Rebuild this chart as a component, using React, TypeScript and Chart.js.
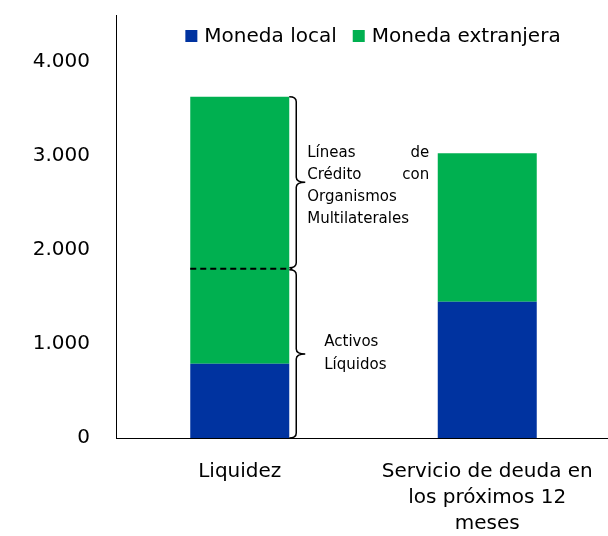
import React, { useEffect, useRef } from "react";
import { Chart, registerables } from "chart.js";

Chart.register(...registerables);

const categories = [["Liquidez"], ["Servicio de deuda en", "los próximos 12", "meses"]];
const seriesLabels = ["Moneda local", "Moneda extranjera"];
const monedaLocal = [790, 1450];
const monedaExtranjera = [2840, 1580];
const yTicks = [0, 1000, 2000, 3000, 4000];
const yMax = 4500;
const activosLiquidos = 1800;
const upperNote = [["Líneas", "de"], ["Crédito", "con"], ["Organismos"], ["Multilaterales"]];
const lowerNote = ["Activos", "Líquidos"];

const BLUE = "#0033A0";
const GREEN = "#00B050";
const FONT = "'DejaVu Sans', sans-serif";

const fmt = (v: number) => String(v).replace(/\B(?=(\d{3})+(?!\d))/g, ".");

function drawBrace(ctx: CanvasRenderingContext2D, x0: number, y1: number, y2: number) {
  const xv = x0 + 7;
  const xt = x0 + 16;
  const r = 5;
  const ym = (y1 + y2) / 2;
  ctx.beginPath();
  ctx.moveTo(x0, y1);
  ctx.quadraticCurveTo(xv, y1, xv, y1 + r);
  ctx.lineTo(xv, ym - r);
  ctx.quadraticCurveTo(xv, ym, xt, ym);
  ctx.quadraticCurveTo(xv, ym, xv, ym + r);
  ctx.lineTo(xv, y2 - r);
  ctx.quadraticCurveTo(xv, y2, x0, y2);
  ctx.stroke();
}

const annotPlugin = {
  id: "annot",
  afterDatasetsDraw(chart: any) {
    const ctx: CanvasRenderingContext2D = chart.ctx;
    const ys = chart.scales.y;
    const bar: any = chart.getDatasetMeta(0).data[0];
    const half = bar.width / 2;
    const left = bar.x - half;
    const right = bar.x + half;
    const total = monedaLocal[0] + monedaExtranjera[0];
    const yTop = ys.getPixelForValue(total);
    const yMid = ys.getPixelForValue(activosLiquidos);
    const yBot = ys.getPixelForValue(0);
    ctx.save();
    ctx.strokeStyle = "#000";
    ctx.lineWidth = 2;
    ctx.setLineDash([6, 4]);
    ctx.beginPath();
    ctx.moveTo(left, yMid);
    ctx.lineTo(right + 3, yMid);
    ctx.stroke();
    ctx.setLineDash([]);
    ctx.lineWidth = 1.5;
    drawBrace(ctx, right, yTop, yMid - 1);
    drawBrace(ctx, right, yMid + 1, yBot);

    ctx.fillStyle = "#000";
    ctx.font = `15px ${FONT}`;
    ctx.textBaseline = "middle";
    const lh = 22;
    const xL = right + 18;
    const xR = right + 140;
    const upC = (yTop + yMid) / 2 + 3;
    upperNote.forEach((words, i) => {
      const yy = upC + (i - (upperNote.length - 1) / 2) * lh;
      ctx.textAlign = "left";
      ctx.fillText(words[0], xL, yy);
      if (words.length > 1) {
        ctx.textAlign = "right";
        ctx.fillText(words[1], xR, yy);
      }
    });
    const loC = (yMid + yBot) / 2;
    ctx.textAlign = "left";
    lowerNote.forEach((w, i) => {
      const yy = loC + (i - (lowerNote.length - 1) / 2) * 23;
      ctx.fillText(w, right + 35, yy);
    });
    ctx.restore();
  },
  afterDraw(chart: any) {
    const ctx: CanvasRenderingContext2D = chart.ctx;
    ctx.save();
    ctx.font = `20px ${FONT}`;
    ctx.textBaseline = "middle";
    ctx.textAlign = "left";
    const box = 12;
    const gap = 7;
    const itemGap = 16;
    const items = chart.data.datasets.map((d: any) => ({ label: d.label, color: d.backgroundColor }));
    const widths = items.map((it: any) => box + gap + ctx.measureText(it.label).width);
    const total = widths.reduce((a: number, b: number) => a + b, 0) + itemGap * (items.length - 1);
    let x = 373 - total / 2;
    const yc = 37;
    items.forEach((it: any, i: number) => {
      ctx.fillStyle = it.color;
      ctx.fillRect(x, yc - box / 2 - 1, box, box);
      ctx.fillStyle = "#000";
      ctx.fillText(it.label, x + box + gap, yc);
      x += widths[i] + itemGap;
    });
    ctx.restore();
  },
};

export default function App() {
  const ref = useRef<HTMLCanvasElement>(null);
  useEffect(() => {
    if (!ref.current) return;
    const chart = new Chart(ref.current, {
      type: "bar",
      data: {
        labels: categories as any,
        datasets: [
          { label: seriesLabels[0], data: monedaLocal, backgroundColor: BLUE, borderWidth: 0 },
          { label: seriesLabels[1], data: monedaExtranjera, backgroundColor: GREEN, borderWidth: 0 },
        ],
      },
      options: {
        responsive: false,
        animation: false,
        layout: { padding: { top: 15, left: 0, right: 0, bottom: 0 } },
        datasets: { bar: { categoryPercentage: 1, barPercentage: 0.4 } },
        plugins: { legend: { display: false }, tooltip: { enabled: false } },
        scales: {
          x: {
            stacked: true,
            grid: { display: false, drawTicks: false },
            border: { color: "#000", width: 1 },
            ticks: {
              color: "#000",
              font: { family: FONT, size: 20, lineHeight: 1.3 },
              padding: 21,
              maxRotation: 0,
              autoSkip: false,
            },
            afterFit: (s: any) => {
              s.height = 98;
              s.paddingLeft = 0;
              s.paddingRight = 0;
            },
          },
          y: {
            stacked: true,
            min: 0,
            max: yMax,
            grid: { display: false, drawTicks: false },
            border: { color: "#000", width: 1 },
            ticks: {
              color: "#000",
              font: { family: FONT, size: 20 },
              padding: 26,
              callback: (v: any) => fmt(Number(v)),
            },
            afterBuildTicks: (s: any) => {
              s.ticks = yTicks.map((v) => ({ value: v }));
            },
            afterFit: (s: any) => {
              s.width = 116;
              s.paddingTop = 0;
              s.paddingBottom = 0;
            },
          },
        },
      },
      plugins: [annotPlugin],
    });
    return () => chart.destroy();
  }, []);
  return (
    <div style={{ position: "fixed", left: 0, top: 0, width: 608, height: 536, overflow: "hidden", background: "#fff" }}>
      <canvas ref={ref} width={611} height={536} style={{ display: "block" }} />
    </div>
  );
}
